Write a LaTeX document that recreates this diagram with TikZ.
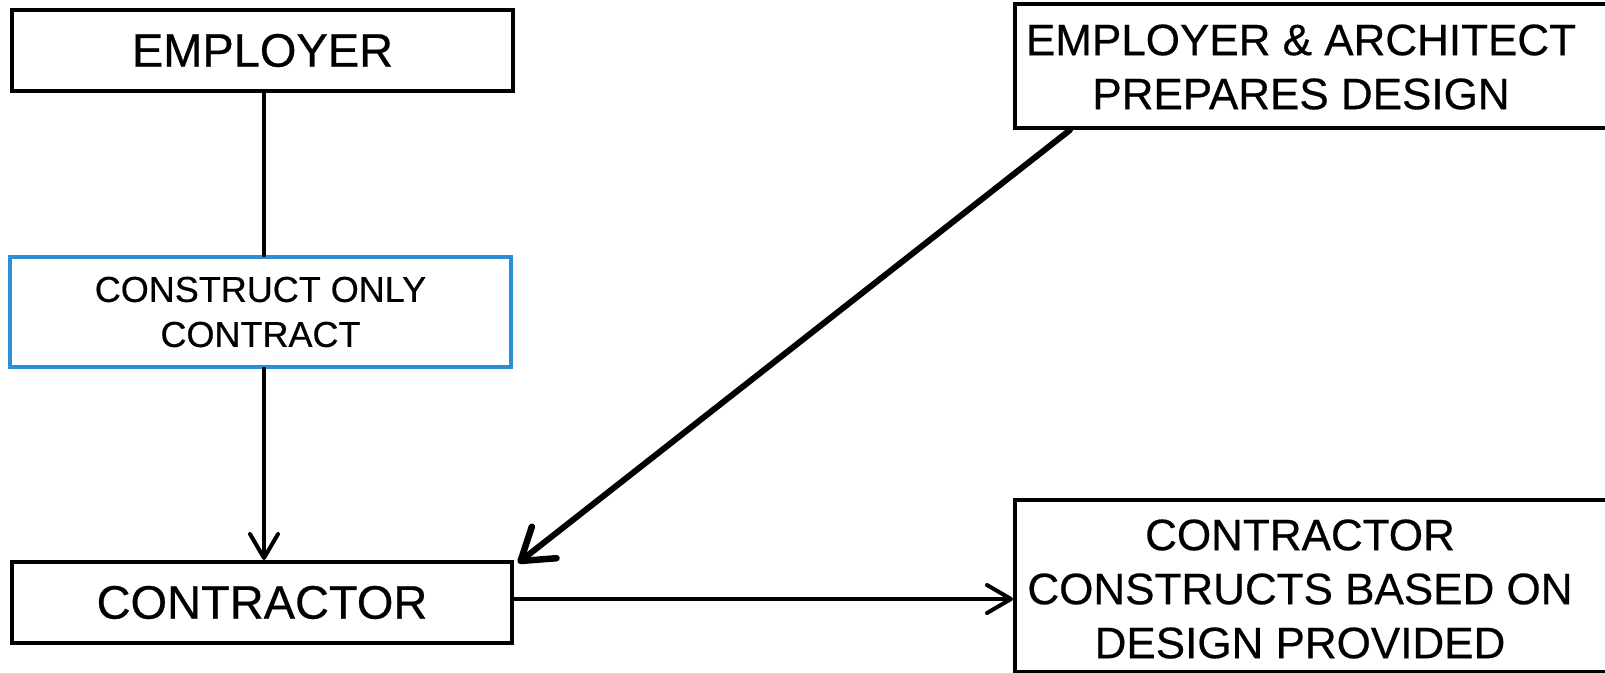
\documentclass[tikz,border=0pt]{standalone}
\usepackage{fontspec}
\setmainfont{Liberation Sans}
\newfontfamily\heavysans{Liberation Sans}[FakeBold=0.5]
\usetikzlibrary{arrows.meta}
\definecolor{boxblue}{HTML}{2B8FD6}
\tikzset{
  box/.style={draw=black, line width=4pt, fill=white, inner sep=0pt, align=center},
  bluebox/.style={draw=boxblue, line width=3.5pt, fill=white, inner sep=0pt, align=center},
  bigtxt/.style={font=\heavysans\fontsize{47}{56}\selectfont},
  medtxt/.style={font=\heavysans\fontsize{44}{54}\selectfont, align=center, inner sep=0pt},
  smalltxt/.style={font=\heavysans\fontsize{36}{45}\selectfont},
  conn/.style={line width=4pt, line cap=round, line join=round},
  thinhead/.style={-{Straight Barb[length=24pt, width=28pt, line width=4pt, round]}},
  thickhead/.style={-{Straight Barb[length=30pt, width=40pt, line width=6.5pt, round]}}
}
\begin{document}
\begin{tikzpicture}[x=1pt, y=-1pt]
\useasboundingbox[fill=white] (0,0) rectangle (1605,672);

\node[box, bigtxt, minimum width=501pt, minimum height=81pt] (emp) at (262.5,50.5) {EMPLOYER};
\node[bluebox, smalltxt, minimum width=501pt, minimum height=110pt] (con) at (260.5,312) {CONSTRUCT ONLY\\CONTRACT};
\node[box, bigtxt, minimum width=500pt, minimum height=81pt] (ctr) at (262,602.5) {CONTRACTOR};

\node[box, minimum width=620pt, minimum height=124pt, anchor=north west] (arch) at (1013,2) {};
\node[medtxt] (archtxt) at (1301,67) {EMPLOYER \& ARCHITECT\\PREPARES DESIGN};

\node[box, minimum width=620pt, minimum height=172pt, anchor=north west] (res) at (1013,498) {};
\node[medtxt] (restxt) at (1300,589) {CONTRACTOR\\CONSTRUCTS BASED ON\\DESIGN PROVIDED};

\coordinate (dstart) at ([xshift=57pt]arch.south west);

\draw[conn] (emp.south -| 264,0) -- (con.north -| 264,0);
\draw[conn, thinhead] (con.south -| 264,0) -- (ctr.north -| 264,0);
\draw[line width=6pt, line cap=round, thickhead] (dstart) -- ([xshift=4pt,yshift=-3pt]ctr.north east);
\draw[conn, thinhead] (ctr.east |- 0,599) -- (res.west |- 0,599);
\end{tikzpicture}
\end{document}
